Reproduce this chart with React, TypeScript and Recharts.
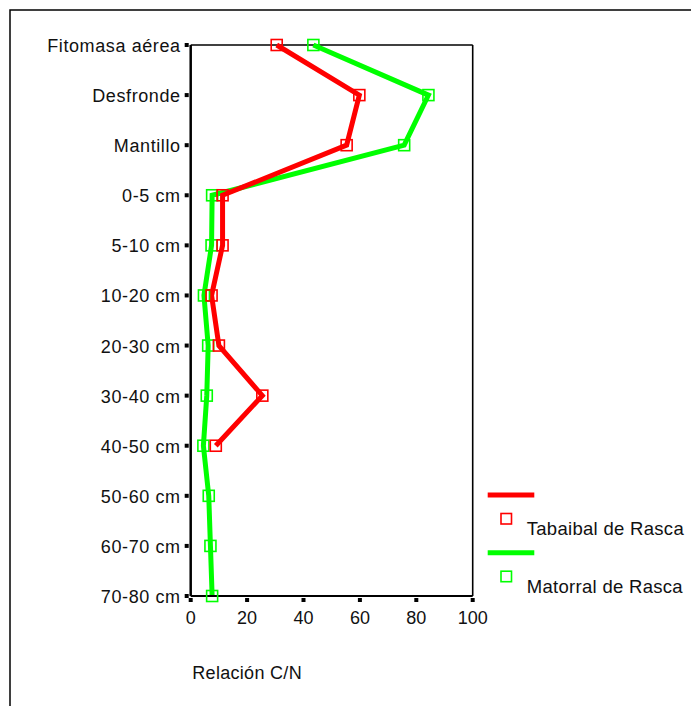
import React from "react";
import { LineChart, Line, XAxis, YAxis, ReferenceLine } from "recharts";

// Sampling levels, from above-ground biomass down to the deepest soil layer
const CATEGORIES = [
  "Fitomasa aérea",
  "Desfronde",
  "Mantillo",
  "0-5 cm",
  "5-10 cm",
  "10-20 cm",
  "20-30 cm",
  "30-40 cm",
  "40-50 cm",
  "50-60 cm",
  "60-70 cm",
  "70-80 cm",
];

// C/N ratio per level
const TABAIBAL = [30.5, 59.8, 55.3, 11.3, 11.3, 7.4, 10, 25.4, 8.9];
const MATORRAL = [43.5, 84.3, 75.7, 7.6, 7.4, 4.7, 6.2, 5.7, 4.5, 6.4, 7, 7.6];

const X_TICKS = [0, 20, 40, 60, 80, 100];
const X_TITLE = "Relación C/N";

const SERIES = [
  { key: "tabaibal", name: "Tabaibal de Rasca", color: "#ff0000" },
  { key: "matorral", name: "Matorral de Rasca", color: "#00ff00" },
];

const data = CATEGORIES.map((cat, i) => ({
  cat,
  tabaibal: TABAIBAL[i],
  matorral: MATORRAL[i],
}));

const W = 691;
const H = 706;
const MARGIN = { top: 45, right: 218.3, bottom: 70, left: 10.7 };
const Y_AXIS_W = 180;
const X_AXIS_H = 40;
const PLOT_LEFT = MARGIN.left + Y_AXIS_W;
const PLOT_BOTTOM = H - MARGIN.bottom - X_AXIS_H;
const FONT = "'Liberation Sans', Arial, sans-serif";

const YTick = (props: any) => {
  const y = props.payload.coordinate;
  return (
    <g>
      <rect x={PLOT_LEFT - 6} y={y - 2} width={4} height={4} fill="#000" />
      <text
        x={PLOT_LEFT - 10}
        y={y + 1}
        textAnchor="end"
        dominantBaseline="central"
        fontSize={18}
        letterSpacing={0.6}
        fontFamily={FONT}
        fill="#111"
      >
        {props.payload.value}
      </text>
    </g>
  );
};

const XTick = (props: any) => {
  const x = props.payload.coordinate;
  return (
    <g>
      <rect x={x - 2} y={PLOT_BOTTOM + 2} width={4} height={4} fill="#000" />
      <text
        x={x}
        y={PLOT_BOTTOM + 28}
        textAnchor="middle"
        fontSize={18}
        fontFamily={FONT}
        fill="#111"
      >
        {props.payload.value}
      </text>
    </g>
  );
};

const SquareDot = (color: string) => (props: any) => {
  const { cx, cy } = props;
  if (cx == null || cy == null || props.value == null) return <g />;
  return (
    <rect
      x={cx - 5.5}
      y={cy - 5.5}
      width={11}
      height={11}
      fill="none"
      stroke={color}
      strokeWidth={1.6}
    />
  );
};

const LegendBlock = () => (
  <g fontFamily={FONT}>
    {SERIES.map((s, i) => {
      const oy = 485 + i * 57.7;
      return (
        <g key={s.key}>
          <line x1={487.7} x2={534.3} y1={oy + 10} y2={oy + 10} stroke={s.color} strokeWidth={5} />
          <rect x={501} y={oy + 28.5} width={10.5} height={10.5} fill="none" stroke={s.color} strokeWidth={1.6} />
          <text x={526.7} y={oy + 50} fontSize={18.5} letterSpacing={0.3} fill="#111">
            {s.name}
          </text>
        </g>
      );
    })}
  </g>
);

export default function App() {
  return (
    <div style={{ position: "absolute", left: 0, top: 0, width: W, height: H, background: "#fff" }}>
      <LineChart width={W} height={H} data={data} layout="vertical" margin={MARGIN}>
        <rect x={10} y={10} width={1000} height={1000} fill="none" stroke="#000" strokeWidth={1.5} />
        <XAxis
          type="number"
          domain={[0, 100]}
          ticks={X_TICKS}
          height={X_AXIS_H}
          tick={<XTick />}
          tickLine={false}
          axisLine={{ stroke: "#000", strokeWidth: 2 }}
          interval={0}
        />
        <YAxis
          type="category"
          dataKey="cat"
          scale="point"
          padding={{ top: 0, bottom: 0 }}
          width={Y_AXIS_W}
          tick={<YTick />}
          tickLine={false}
          axisLine={{ stroke: "#000", strokeWidth: 2.5 }}
          interval={0}
        />
        <ReferenceLine x={100} stroke="#000" strokeWidth={1.6} />
        <ReferenceLine y={CATEGORIES[0]} stroke="#000" strokeWidth={1.6} />
        {[...SERIES].reverse().map((s) => (
          <Line
            key={s.key}
            dataKey={s.key}
            name={s.name}
            stroke={s.color}
            strokeWidth={5}
            dot={SquareDot(s.color)}
            activeDot={false}
            isAnimationActive={false}
          />
        ))}
        <LegendBlock />
        <text x={192.3} y={679.3} fontSize={18} letterSpacing={0.3} fontFamily={FONT} fill="#111">
          {X_TITLE}
        </text>
      </LineChart>
    </div>
  );
}
